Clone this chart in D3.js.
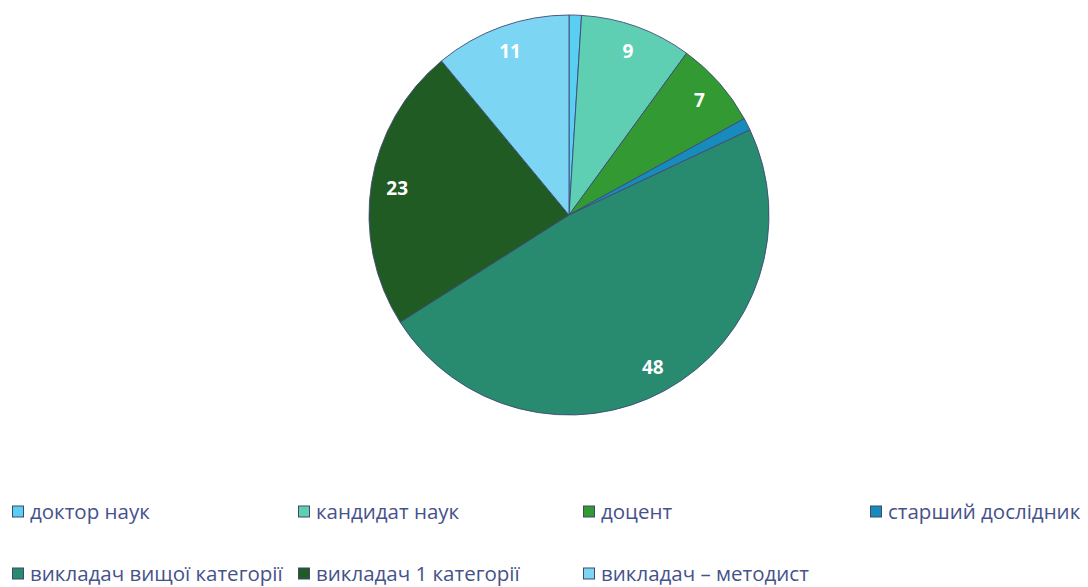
<!DOCTYPE html>
<html>
<head>
<meta charset="utf-8">
<script src="https://cdn.jsdelivr.net/npm/d3@7/dist/d3.min.js"></script>
<style>
  html, body { margin: 0; padding: 0; background: #ffffff; }
  svg { display: block; }
</style>
</head>
<body>
<svg id="chart" width="1088" height="587"></svg>
<script>
// Staff composition by academic degree / teaching category
const categories = [
  "доктор наук",
  "кандидат наук",
  "доцент",
  "старший дослідник",
  "викладач вищої категорії",
  "викладач 1 категорії",
  "викладач – методист"
];
const values = [1, 9, 7, 1, 48, 23, 11];
const colors = ["#5ccdf3", "#5fcfb4", "#339933", "#178bbb", "#288a6f", "#1f5b22", "#7cd6f3"];
// only these slices carry a value label
const showLabel = [false, true, true, false, true, true, true];

const svg = d3.select("#chart");
const cx = 569, cy = 215, radius = 200;

const data = categories.map((c, i) => ({ name: c, value: values[i], color: colors[i], label: showLabel[i] }));

const pie = d3.pie().value(d => d.value).sort(null);
const arc = d3.arc().innerRadius(0).outerRadius(radius);
const labelArc = d3.arc().innerRadius(radius * 0.87).outerRadius(radius * 0.87);

const g = svg.append("g").attr("transform", `translate(${cx},${cy})`);
const arcs = pie(data);

g.selectAll("path.slice")
  .data(arcs)
  .join("path")
  .attr("class", "slice")
  .attr("d", arc)
  .attr("fill", d => d.data.color)
  .attr("stroke", "#3e4a78")
  .attr("stroke-width", 0.9);

g.selectAll("text.val")
  .data(arcs.filter(d => d.data.label))
  .join("text")
  .attr("class", "val")
  .attr("transform", d => `translate(${labelArc.centroid(d)})`)
  .attr("text-anchor", "middle")
  .attr("dominant-baseline", "central")
  .attr("font-family", "'Open Sans', 'Liberation Sans', sans-serif")
  .attr("font-weight", "bold")
  .attr("font-size", 19)
  .attr("fill", "#ffffff")
  .text(d => d.data.value);

// Legend: four columns, two rows
const colX = [12, 298, 583, 870];
const rowY = [512, 574];
const legend = svg.append("g");
const items = legend.selectAll("g.item")
  .data(data)
  .join("g")
  .attr("class", "item")
  .attr("transform", (d, i) => `translate(${colX[i % 4]},${rowY[Math.floor(i / 4)]})`);

items.append("rect")
  .attr("x", 0.5).attr("y", -6)
  .attr("width", 11).attr("height", 11)
  .attr("fill", d => d.color)
  .attr("stroke", "#3e4a6a")
  .attr("stroke-width", 1);

items.append("text")
  .attr("x", 18)
  .attr("y", 6.5)
  .attr("font-family", "'Open Sans', 'Liberation Sans', sans-serif")
  .attr("font-size", 20.5)
  .attr("fill", "#46528a")
  .text(d => d.name);
</script>
</body>
</html>
